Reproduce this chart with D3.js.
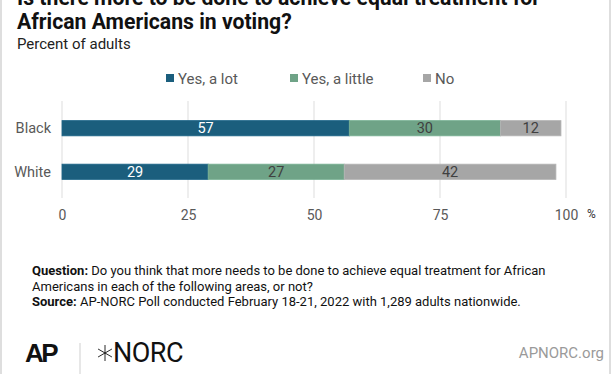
<!DOCTYPE html>
<html><head><meta charset="utf-8">
<script src="https://cdn.jsdelivr.net/npm/d3@7"></script>
<style>
body{margin:0;background:#fff;}
svg{display:block;font-family:Roboto,"Noto Sans",sans-serif;}
</style></head>
<body>
<svg id="chart" width="612" height="374"></svg>
<script>
const categories = ["Black", "White"];
const seriesNames = ["Yes, a lot", "Yes, a little", "No"];
const yesALot = [57, 29];
const yesALittle = [30, 27];
const no = [12, 42];
const xTicks = [0, 25, 50, 75, 100];
const colors = ["#1b5e7d", "#6fa387", "#a6a6a6"];
const labelColors = ["#ffffff", "#404040", "#404040"];

const svg = d3.select("#chart");
svg.append("rect").attr("x",0).attr("y",0).attr("width",612).attr("height",374).attr("fill","#fff");
svg.append("rect").attr("x",1).attr("y",-5).attr("width",609).attr("height",390)
  .attr("fill","none").attr("stroke","#dedede").attr("stroke-width",2);

// Title
const title = svg.append("text").attr("x",17).attr("font-weight","bold").attr("font-size",21.2).attr("fill","#111");
title.append("tspan").attr("x",17).attr("y",5).text("Is there more to be done to achieve equal treatment for");
title.append("tspan").attr("x",17).attr("y",29).text("African Americans in voting?");
svg.append("text").attr("x",17).attr("y",49).attr("font-size",15).attr("fill","#222").text("Percent of adults");

// Legend
const legendX = [166, 290, 423];
seriesNames.forEach((s,i)=>{
  svg.append("rect").attr("x",legendX[i]).attr("y",74).attr("width",8).attr("height",8).attr("fill",colors[i]);
  svg.append("text").attr("x",legendX[i]+12).attr("y",83.5).attr("font-size",15).attr("fill","#595959").text(s);
});

const x = d3.scaleLinear().domain([0,100]).range([62,566]);
const y = d3.scaleBand().domain(categories).range([101,199]).paddingInner(0.65).paddingOuter(0.45);

// gridlines
svg.append("g").selectAll("line").data(xTicks).join("line")
  .attr("x1",d=>x(d)).attr("x2",d=>x(d)).attr("y1",101).attr("y2",198)
  .attr("stroke","#e3e3e3").attr("stroke-width",1.2);

// axis
const axis = svg.append("g").attr("transform","translate(0,205)")
  .call(d3.axisBottom(x).tickValues(xTicks).tickSize(0).tickPadding(0));
axis.select(".domain").remove();
axis.selectAll("text").attr("font-size",14).attr("fill","#595959").attr("font-family","Roboto,sans-serif").attr("dy","1.05em");
svg.append("text").attr("x",587).attr("y",218).attr("font-size",12).attr("fill","#333").text("%");

// category labels
svg.append("g").selectAll("text").data(categories).join("text")
  .attr("x",51).attr("y",d=>y(d)+y.bandwidth()/2).attr("dy","0.35em")
  .attr("text-anchor","end").attr("font-size",14.5).attr("fill","#595959").text(d=>d);

// stacked data
const rows = categories.map((c,i)=>({cat:c, "Yes, a lot":yesALot[i], "Yes, a little":yesALittle[i], "No":no[i]}));
const stack = d3.stack().keys(seriesNames)(rows);
stack.forEach((layer,li)=>{
  const g = svg.append("g");
  g.selectAll("rect").data(layer).join("rect")
    .attr("x",d=>x(d[0])).attr("width",d=>x(d[1])-x(d[0]))
    .attr("y",d=>y(d.data.cat)).attr("height",y.bandwidth())
    .attr("fill",colors[li]).attr("stroke",d3.color(colors[li]).brighter(0.25)).attr("stroke-width",0.8);
  g.selectAll("text").data(layer).join("text")
    .attr("x",d=>(x(d[0])+x(d[1]))/2).attr("y",d=>y(d.data.cat)+y.bandwidth()/2).attr("dy","0.36em")
    .attr("text-anchor","middle").attr("font-size",14.5).attr("fill",labelColors[li])
    .text(d=>d[1]-d[0]);
});

// footer
const f = svg.append("g").attr("font-size",13).attr("fill","#111");
const l1 = f.append("text").attr("x",32).attr("y",275);
l1.append("tspan").attr("font-weight","bold").text("Question:");
l1.append("tspan").text(" Do you think that more needs to be done to achieve equal treatment for African");
f.append("text").attr("x",32).attr("y",290.5).text("Americans in each of the following areas, or not?");
const l3 = f.append("text").attr("x",32).attr("y",306);
l3.append("tspan").attr("font-weight","bold").text("Source:");
l3.append("tspan").text(" AP-NORC Poll conducted February 18-21, 2022 with 1,289 adults nationwide.");

// logos
svg.append("text").attr("x",25).attr("y",362).attr("font-size",26).attr("font-weight","900")
  .attr("font-family","'Liberation Sans',Arial,sans-serif").attr("letter-spacing",-2.5).attr("fill","#111").text("AP");
svg.append("line").attr("x1",80).attr("x2",80).attr("y1",343).attr("y2",374).attr("stroke","#cfcfcf").attr("stroke-width",1);
// star
const star = svg.append("g").attr("transform","translate(105,353)").attr("stroke","#111").attr("stroke-width",0.9);
[0,60,120].forEach(a=>{
  const r=a*Math.PI/180;
  star.append("line").attr("x1",-8*Math.sin(r)).attr("y1",-8*Math.cos(r)).attr("x2",8*Math.sin(r)).attr("y2",8*Math.cos(r));
});
svg.append("text").attr("x",113).attr("y",362).attr("font-size",27).attr("fill","#111").attr("letter-spacing",-0.5).text("NORC");
svg.append("text").attr("x",604).attr("y",358).attr("text-anchor","end").attr("font-size",15).attr("fill","#9a9a9a").text("APNORC.org");
</script>
</body></html>
